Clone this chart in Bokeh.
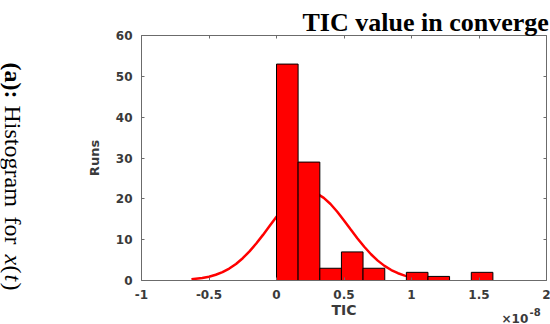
import math
from bokeh.plotting import figure
from bokeh.models import Range1d, LinearAxis, FixedTicker, Label, ColumnDataSource
from bokeh.embed import file_html
from bokeh.resources import INLINE

# ---- data (TIC values in units of 1e-8) ----
bin_edges = [0.0, 0.160, 0.321, 0.481, 0.641, 0.802, 0.962, 1.122, 1.282, 1.443, 1.603]
run_counts = [53, 29, 3, 7, 3, 0, 2, 1, 0, 2]

# normal fit curve
fit_x = [-0.63, -0.55, -0.50, -0.45, -0.40, -0.35, -0.30, -0.25, -0.20, -0.15, -0.10,
         -0.05, 0.00, 0.05, 0.10, 0.15, 0.20, 0.25, 0.30, 0.35, 0.40, 0.45, 0.50,
         0.55, 0.60, 0.65, 0.70, 0.75, 0.80, 0.85, 0.90, 0.95, 1.00, 1.05, 1.11]
fit_y = [0.28, 0.60, 0.93, 1.41, 2.06, 2.93, 4.06, 5.46, 7.13, 9.05, 11.17,
         13.38, 15.59, 17.63, 19.39, 20.71, 21.50, 21.69, 21.26, 20.24, 18.73, 16.84, 14.71,
         12.49, 10.30, 8.26, 6.43, 4.87, 3.58, 2.56, 1.78, 1.20, 0.79, 0.50, 0.28]

x_ticks = [-1, -0.5, 0, 0.5, 1, 1.5, 2]
x_tick_labels = ["-1", "-0.5", "0", "0.5", "1", "1.5", "2"]
y_ticks = [0, 10, 20, 30, 40, 50, 60]
y_tick_labels = ["0", "10", "20", "30", "40", "50", "60"]

title_text = "TIC value in converge"
x_label = "TIC"
y_label = "Runs"
exp_base = "\u00d710"
exp_power = "-8"

# ---- geometry: box spans x -1..2 over px 141..546, y 0..60 over px 280..35 ----
W, H = 550, 324
BOX_L, BOX_R, BOX_T, BOX_B = 141, 546, 35, 280
X0, X1, Y0, Y1 = -1.0, 2.0, 0.0, 60.0
sx = (BOX_R - BOX_L) / (X1 - X0)
sy = (BOX_B - BOX_T) / (Y1 - Y0)

def dx(px):
    return X0 + (px - BOX_L) / sx

def dy(py):
    return Y0 + (BOX_B - py) / sy

p = figure(width=W, height=H,
           x_range=Range1d(dx(0), dx(W)), y_range=Range1d(dy(H), dy(0)),
           output_backend="svg", toolbar_location=None,
           x_axis_location=None, y_axis_location=None,
           min_border=0, min_border_left=0, min_border_right=0,
           min_border_top=0, min_border_bottom=0)
p.title.visible = False
p.xgrid.visible = False
p.ygrid.visible = False
p.outline_line_color = None
p.background_fill_color = "white"
p.border_fill_color = "white"

# curve first (bars cover it)
p.line(fit_x, fit_y, line_color="#ff0000", line_width=2.5)

# bars
bl, br, bt = [], [], []
for i, c in enumerate(run_counts):
    if c > 0:
        bl.append(bin_edges[i]); br.append(bin_edges[i + 1]); bt.append(c)
src = ColumnDataSource(dict(left=bl, right=br, top=bt, bottom=[0] * len(bt)))
p.quad(left="left", right="right", top="top", bottom="bottom", source=src,
       fill_color="#ff0000", line_color="black", line_width=1)

AX_COL = "#6b6b6b"
LAB_COL = "#3a3a3a"

def make_axis(ticks, labels, loc, bounds):
    ax = LinearAxis(ticker=FixedTicker(ticks=ticks), fixed_location=loc, bounds=bounds)
    ax.axis_line_color = AX_COL
    ax.axis_line_width = 1
    ax.major_tick_line_color = AX_COL
    ax.major_tick_in = 3
    ax.major_tick_out = 0
    ax.minor_tick_line_color = None
    ax.major_label_text_font = "DejaVu Sans"
    ax.major_label_text_font_style = "bold"
    ax.major_label_text_font_size = "12px"
    ax.major_label_text_color = LAB_COL
    ax.axis_label_text_font = "DejaVu Sans"
    ax.axis_label_text_font_style = "bold"
    ax.axis_label_text_font_size = "13px"
    ax.axis_label_text_color = LAB_COL
    ax.major_label_overrides = {t: s for t, s in zip(ticks, labels)}
    return ax

xa = make_axis(x_ticks, x_tick_labels, Y0, (X0, X1))
xa.major_label_standoff = 9
xa.axis_label = x_label
xa.axis_label_text_font_size = "14px"
xa.axis_label_standoff = 0
p.add_layout(xa, "below")

ya = make_axis(y_ticks, y_tick_labels, X0, (Y0, Y1))
ya.major_label_standoff = 9
ya.axis_label = y_label
ya.axis_label_standoff = 11
p.add_layout(ya, "left")

top_ax = make_axis(x_ticks, [""] * len(x_ticks), Y1, (X0, X1))
top_ax.major_label_standoff = 0
p.add_layout(top_ax, "above")

right_ax = make_axis(y_ticks, [""] * len(y_ticks), X1, (Y0, Y1))
right_ax.major_label_standoff = 0
p.add_layout(right_ax, "right")

# title (cut at right edge like the reference)
p.add_layout(Label(x=dx(302), y=dy(22), text=title_text, text_font="Liberation Serif",
                   text_font_style="bold", text_font_size="26px", text_color="black",
                   text_align="left", text_baseline="alphabetic"))

# exponent
p.add_layout(Label(x=dx(501), y=dy(318), text=exp_base, text_font="DejaVu Sans",
                   text_font_style="bold", text_font_size="12px", text_color=LAB_COL,
                   text_align="left", text_baseline="alphabetic"))
p.add_layout(Label(x=dx(529), y=dy(311), text=exp_power, text_font="DejaVu Sans",
                   text_font_style="bold", text_font_size="10px", text_color=LAB_COL,
                   text_align="left", text_baseline="alphabetic"))

# rotated side caption "(a): Histogram for x(t)"
side_parts = [("(a):", "bold", 62), ("Histogram", "normal", 105), ("for", "normal", 216),
              ("x", "italic", 254), ("(", "normal", 265), ("t", "italic", 274), (")", "normal", 282)]
for txt, st, py in side_parts:
    p.add_layout(Label(x=dx(12.5), y=dy(py), text=txt, angle=-math.pi / 2,
                       text_font="Liberation Serif", text_font_style=st,
                       text_font_size="24px", text_color="black",
                       text_align="left", text_baseline="alphabetic"))

open("out.html", "w").write(file_html(p, INLINE))
